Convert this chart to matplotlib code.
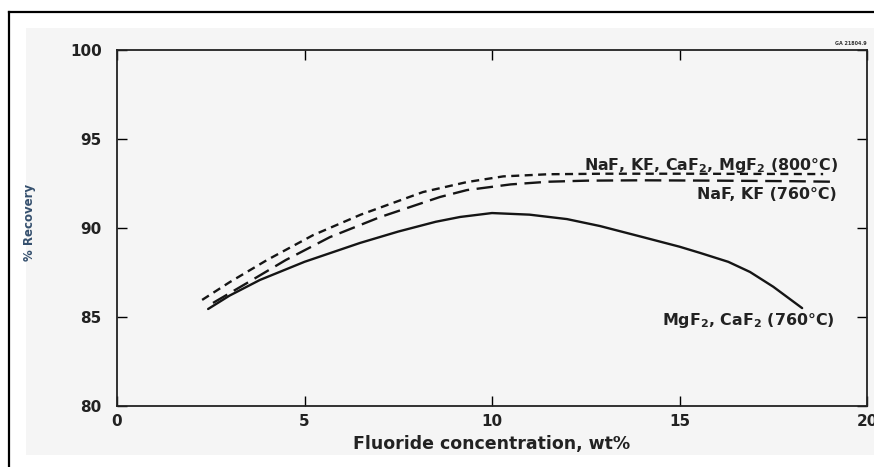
import numpy as np
import matplotlib
matplotlib.use('Agg')
import matplotlib.pyplot as plt
from matplotlib.patches import Rectangle

plt.rcParams['font.family'] = ['DejaVu Sans']
plt.rcParams['font.weight'] = 'bold'
plt.rcParams['mathtext.fontset'] = 'custom'
plt.rcParams['mathtext.rm'] = 'DejaVu Sans:bold'
plt.rcParams['mathtext.bf'] = 'DejaVu Sans:bold'
plt.rcParams['mathtext.default'] = 'bf'

# MgF2, CaF2 (760 C) - solid
x_mg = [2.43, 3.0, 3.81, 5.0, 6.48, 7.5, 8.5, 9.15, 10.0, 11.0, 12.0, 12.88, 14.0, 15.0, 15.55, 16.3, 16.88, 17.5, 18.27]
y_mg = [85.45, 86.2, 87.08, 88.1, 89.16, 89.8, 90.35, 90.62, 90.84, 90.75, 90.5, 90.11, 89.5, 88.95, 88.6, 88.1, 87.53, 86.7, 85.5]

# NaF, KF, CaF2, MgF2 (800 C) - short dash
x_all = [2.27, 3.0, 4.0, 5.23, 6.5, 8.16, 9.33, 10.3, 11.5, 13.0, 15.0, 17.0, 18.83]
y_all = [85.96, 86.95, 88.2, 89.6, 90.75, 92.02, 92.58, 92.9, 93.02, 93.05, 93.05, 93.04, 93.03]

# NaF, KF (760 C) - long dash
x_nak = [2.56, 3.5, 4.5, 5.68, 7.0, 8.61, 9.33, 10.5, 11.5, 12.53, 14.0, 16.0, 18.0, 19.07]
y_nak = [85.79, 86.95, 88.2, 89.49, 90.6, 91.74, 92.13, 92.45, 92.6, 92.66, 92.68, 92.66, 92.63, 92.6]

xticks = [0, 5, 10, 15, 20]
yticks = [80, 85, 90, 95, 100]

fig = plt.figure(figsize=(8.74, 4.67), dpi=100)
fig.patch.set_facecolor('white')

# page background and scan frame
fig.add_artist(Rectangle((26 / 874, 12 / 467), 1, (455 - 28) / 467,
                         transform=fig.transFigure, facecolor='#f5f5f5',
                         edgecolor='none', zorder=-10))
fig.add_artist(plt.Line2D([9 / 874, 9 / 874], [0, 1 - 12 / 467], color='black',
                          lw=1.6, transform=fig.transFigure, zorder=-5))
fig.add_artist(plt.Line2D([9 / 874, 1], [1 - 12 / 467, 1 - 12 / 467], color='black',
                          lw=1.6, transform=fig.transFigure, zorder=-5))

ax = fig.add_axes([117 / 874, (467 - 406) / 467, 750 / 874, 356 / 467])
ax.set_zorder(5)
ax.set_facecolor('#f5f5f5')

lw = 1.7
ax.plot(x_mg, y_mg, color='#151515', lw=lw, solid_capstyle='round')
ax.plot(x_all, y_all, color='#151515', lw=lw, dashes=(3.4, 2.3))
ax.plot(x_nak, y_nak, color='#151515', lw=lw, dashes=(7.0, 3.2))

ax.set_xlim(0, 20)
ax.set_ylim(80, 100)
ax.set_xticks(xticks)
ax.set_yticks(yticks)
ax.tick_params(direction='in', length=7, width=1, top=True, right=True,
               labelsize=11, labelcolor='#222222')
ax.tick_params(axis='x', pad=6)
ax.tick_params(axis='y', pad=11)
for lab in ax.get_xticklabels() + ax.get_yticklabels():
    lab.set_fontweight('bold')
for s in ax.spines.values():
    s.set_linewidth(1.3)
    s.set_color('#222222')

ax.set_xlabel('Fluoride concentration, wt%', fontsize=12.5, fontweight='bold',
              labelpad=4, color='#222222')
ax.set_ylabel('% Recovery', fontsize=8.5, fontweight='bold', color='#35506e')
ax.yaxis.set_label_coords(-0.108, 0.517)

ax.text(19.23, 93.26, r'NaF, KF, CaF$_2$, MgF$_2$ (800°C)', fontsize=11.4,
        fontweight='bold', ha='right', va='baseline', color='#222222')
ax.text(19.2, 91.63, 'NaF, KF (760°C)', fontsize=11.4, fontweight='bold',
        ha='right', va='baseline', color='#222222')
ax.text(19.15, 84.55, r'MgF$_2$, CaF$_2$ (760°C)', fontsize=11.4,
        fontweight='bold', ha='right', va='baseline', color='#222222')

ax.text(1.0, 1.01, 'GA 21804.9', fontsize=3.5, fontweight='bold',
        ha='right', va='bottom', transform=ax.transAxes, color='#333333')

fig.savefig('out.png', dpi=100)
